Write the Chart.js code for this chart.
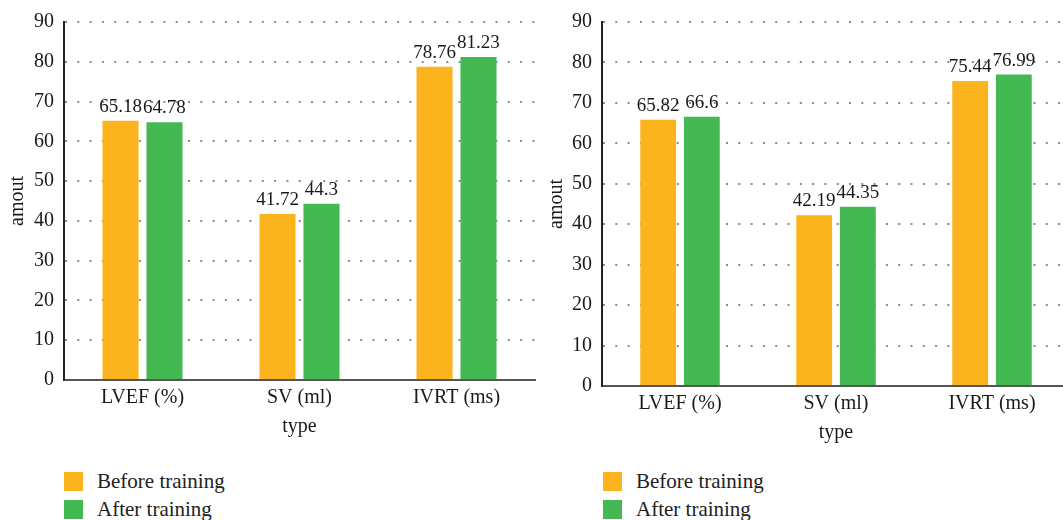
<!DOCTYPE html>
<html>
<head>
<meta charset="utf-8">
<script src="https://cdn.jsdelivr.net/npm/chart.js@4.4.1/dist/chart.umd.min.js"></script>
<style>
  html, body { margin: 0; padding: 0; background: #fff; overflow: hidden; }
  body { width: 1063px; height: 520px; position: relative; }
  canvas { position: absolute; top: 0; }
  .legend { position: absolute; font-family: "Liberation Serif", serif; font-size: 21px; line-height: 1; color: #222; }
  .legend-item { display: flex; align-items: center; height: 28px; }
  .legend-box { width: 19px; height: 19px; margin-right: 14px; }
</style>
</head>
<body>
<canvas id="chartLeft" width="540" height="450" style="left:0"></canvas>
<canvas id="chartRight" width="535" height="456" style="left:540px"></canvas>
<div class="legend" id="legendLeft" style="left:64px; top:467px"></div>
<div class="legend" id="legendRight" style="left:603px; top:467px"></div>

<script>
// ---- data ----
const CATEGORIES = ['LVEF (%)', 'SV (ml)', 'IVRT (ms)'];
const SERIES_NAMES = ['Before training', 'After training'];
const Y_TICKS = [0, 10, 20, 30, 40, 50, 60, 70, 80, 90];

const LEFT_BEFORE = [65.18, 41.72, 78.76];
const LEFT_AFTER = [64.78, 44.3, 81.23];
const RIGHT_BEFORE = [65.82, 42.19, 75.44];
const RIGHT_AFTER = [66.6, 44.35, 76.99];

const COLORS = ['#FBB41E', '#44B853'];
const TEXT_COLOR = '#1a1a1a';
const FONT_FAMILY = '"Liberation Serif", serif';
const FONT_SIZE = 20;

// value printed above each bar
const valueLabels = {
  id: 'valueLabels',
  afterDatasetsDraw(chart) {
    const ctx = chart.ctx;
    ctx.save();
    ctx.font = '19px ' + FONT_FAMILY;
    ctx.fillStyle = TEXT_COLOR;
    ctx.textAlign = 'center';
    ctx.textBaseline = 'alphabetic';
    chart.data.datasets.forEach((ds, i) => {
      chart.getDatasetMeta(i).data.forEach((bar, j) => {
        ctx.fillText(String(ds.data[j]), bar.x, bar.y - 9);
      });
    });
    ctx.restore();
  }
};

function buildChart(canvasId, before, after, opts) {
  const ctx = document.getElementById(canvasId).getContext('2d');
  const font = { family: FONT_FAMILY, size: FONT_SIZE };
  return new Chart(ctx, {
    type: 'bar',
    data: {
      labels: CATEGORIES,
      datasets: [before, after].map((values, i) => ({
        label: SERIES_NAMES[i],
        data: values,
        backgroundColor: COLORS[i],
        categoryPercentage: 0.56,
        barPercentage: 0.82
      }))
    },
    options: {
      responsive: false,
      animation: false,
      layout: { padding: { top: opts.top, right: 5, left: 0, bottom: 0 } },
      plugins: { legend: { display: false }, tooltip: { enabled: false } },
      scales: {
        x: {
          offset: true,
          z: 1,
          grid: { display: false, drawTicks: false },
          border: { display: true, color: '#555', width: 2 },
          ticks: { color: TEXT_COLOR, font, padding: 6, maxRotation: 0 },
          title: { display: true, text: 'type', color: TEXT_COLOR, font, padding: { top: 0, bottom: 11 } },
          afterFit: s => { s.height = 70; }
        },
        y: {
          min: 0,
          max: 90,
          afterBuildTicks: s => { s.ticks = Y_TICKS.map(v => ({ value: v })); },
          grid: {
            drawTicks: false,
            lineWidth: 2,
            color: c => (c.tick && c.tick.value === 0 ? 'rgba(0,0,0,0)' : '#8c8c8c')
          },
          border: { display: true, color: '#222', width: 2, dash: [2, 10.3] },
          ticks: { color: TEXT_COLOR, font, padding: 10 },
          title: { display: true, text: 'amout', color: TEXT_COLOR, font, padding: { top: opts.titlePad, bottom: 0 } },
          afterFit: s => { s.width = opts.axisWidth; }
        }
      }
    },
    plugins: [valueLabels]
  });
}

// vertical legend under each panel
function renderLegend(chart, containerId) {
  const box = document.getElementById(containerId);
  box.innerHTML = '';
  chart.data.datasets.forEach(ds => {
    box.insertAdjacentHTML('beforeend',
      `<div class="legend-item"><span class="legend-box" style="background:${ds.backgroundColor}"></span>${ds.label}</div>`);
  });
}

const leftChart = buildChart('chartLeft', LEFT_BEFORE, LEFT_AFTER, { top: 19, axisWidth: 64, titlePad: 6 });
const rightChart = buildChart('chartRight', RIGHT_BEFORE, RIGHT_AFTER, { top: 14, axisWidth: 62, titlePad: 5 });
renderLegend(leftChart, 'legendLeft');
renderLegend(rightChart, 'legendRight');
</script>
</body>
</html>
